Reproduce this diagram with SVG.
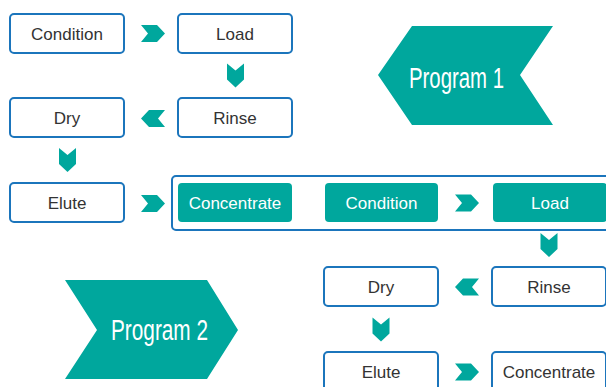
<svg xmlns="http://www.w3.org/2000/svg" width="606" height="387" viewBox="0 0 606 387">
<style>
.box{fill:#fff;stroke:#1b75bc;stroke-width:2}
.tbox{fill:#00a79d}
.cont{fill:none;stroke:#1b75bc;stroke-width:2}
.lbl{font-family:"Liberation Sans",Arial,sans-serif;font-size:17px;fill:#333;text-anchor:middle}
.tlbl{font-family:"Liberation Sans",Arial,sans-serif;font-size:17px;fill:#fff;text-anchor:middle}
.big{font-family:"Liberation Sans",Arial,sans-serif;font-size:29px;fill:#fff}
.chev{fill:#00a79d}
</style>
<defs>
<path id="chev" d="M-12,-8.5 L4,-8.5 L12,0 L4,8.5 L-12,8.5 L-5,0 Z"/>
</defs>
<rect width="606" height="387" fill="#fff"/>

<g id="program1">
<polygon class="chev" points="378,75 412,26 553,26 520,75 553,125 412,125"/>
<text class="big" x="409" y="88" textLength="95" lengthAdjust="spacingAndGlyphs">Program 1</text>
</g>
<g id="program2">
<polygon class="chev" points="65,280 207,280 238,330 207,379 65,379 97,330"/>
<text class="big" x="111" y="340" textLength="97" lengthAdjust="spacingAndGlyphs">Program 2</text>
</g>

<g id="p1-condition"><rect class="box" x="10" y="14" width="114" height="39" rx="4"/><text class="lbl" x="67" y="40">Condition</text></g>
<g id="p1-load"><rect class="box" x="178" y="14" width="114" height="39" rx="4"/><text class="lbl" x="235" y="40">Load</text></g>
<g id="p1-dry"><rect class="box" x="10" y="98" width="114" height="39" rx="4"/><text class="lbl" x="67" y="124">Dry</text></g>
<g id="p1-rinse"><rect class="box" x="178" y="98" width="114" height="39" rx="4"/><text class="lbl" x="235" y="124">Rinse</text></g>
<g id="p1-elute"><rect class="box" x="10" y="183" width="114" height="39" rx="4"/><text class="lbl" x="67" y="209">Elute</text></g>

<g id="shared">
<rect class="cont" x="172" y="176" width="440" height="54" rx="4"/>
<g id="shared-concentrate"><rect class="tbox" x="178" y="183" width="114" height="39" rx="4"/><text class="tlbl" x="235" y="209">Concentrate</text></g>
<g id="p2-condition"><rect class="tbox" x="325" y="183" width="113" height="39" rx="4"/><text class="tlbl" x="381.5" y="209">Condition</text></g>
<g id="p2-load"><rect class="tbox" x="493" y="183" width="114" height="39" rx="4"/><text class="tlbl" x="550" y="209">Load</text></g>
</g>

<g id="p2-dry"><rect class="box" x="324" y="267" width="114" height="39" rx="4"/><text class="lbl" x="381" y="293">Dry</text></g>
<g id="p2-rinse"><rect class="box" x="492" y="267" width="114" height="39" rx="4"/><text class="lbl" x="549" y="293">Rinse</text></g>
<g id="p2-elute"><rect class="box" x="324" y="352" width="114" height="39" rx="4"/><text class="lbl" x="381" y="378">Elute</text></g>
<g id="p2-concentrate"><rect class="box" x="492" y="352" width="114" height="39" rx="4"/><text class="lbl" x="549" y="378">Concentrate</text></g>

<g id="connectors" class="chev">
<use href="#chev" transform="translate(153,33.5)"/>
<use href="#chev" transform="translate(235.5,75.5) rotate(90)"/>
<use href="#chev" transform="translate(153,118.5) rotate(180)"/>
<use href="#chev" transform="translate(67.5,160) rotate(90)"/>
<use href="#chev" transform="translate(153,203.5)"/>
<use href="#chev" transform="translate(467,203)"/>
<use href="#chev" transform="translate(549,245) rotate(90)"/>
<use href="#chev" transform="translate(467,287) rotate(180)"/>
<use href="#chev" transform="translate(381,329.5) rotate(90)"/>
<use href="#chev" transform="translate(467,372)"/>
</g>
</svg>
